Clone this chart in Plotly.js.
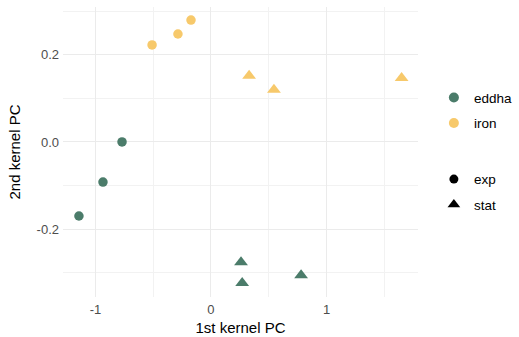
<!DOCTYPE html>
<html><head><meta charset="utf-8">
<script src="https://cdn.plot.ly/plotly-3.0.1.min.js"></script>
<style>html,body{margin:0;padding:0;background:#fff}#chart{width:519px;height:337px}</style>
</head><body><div id="chart"></div>
<script>
// data
const pc1 = [-0.77, -0.935, -1.143, 0.26, 0.27, 0.78, -0.51, -0.286, -0.173, 0.33, 0.545, 1.65];
const pc2 = [0.0, -0.092, -0.170, -0.276, -0.324, -0.306, 0.223, 0.248, 0.280, 0.152, 0.120, 0.147];
const treatment = ["eddha","eddha","eddha","eddha","eddha","eddha","iron","iron","iron","iron","iron","iron"];
const method = ["exp","exp","exp","stat","stat","stat","exp","exp","exp","stat","stat","stat"];
const treatments = ["eddha","iron"];
const methods = ["exp","stat"];
const colors = {eddha:"#4B7C6A", iron:"#F7C96B"};
const symbols = {exp:"circle", stat:"triangle-up"};
const sizes = {exp:9.5, stat:12};

const traces = [];
treatments.forEach(t => methods.forEach(m => {
  const idx = pc1.map((_, i) => i).filter(i => treatment[i] === t && method[i] === m);
  traces.push({
    type: "scatter", mode: "markers",
    x: idx.map(i => pc1[i]), y: idx.map(i => pc2[i]),
    marker: {color: colors[t], symbol: symbols[m], size: sizes[m]},
    showlegend: false, hoverinfo: "skip"
  });
}));
treatments.forEach(t => traces.push({
  type: "scatter", mode: "markers", x: [null], y: [null], name: t,
  marker: {color: colors[t], symbol: "circle", size: 10},
  legend: "legend", legendgroup: t
}));
methods.forEach(m => traces.push({
  type: "scatter", mode: "markers", x: [null], y: [null], name: m,
  marker: {color: "#000000", symbol: symbols[m], size: m === "exp" ? 9 : 11},
  legend: "legend2", legendgroup: m
}));

const font = {family: "Liberation Sans, Arial, sans-serif"};
const layout = {
  width: 519, height: 337,
  margin: {l: 63, r: 101, t: 7, b: 40},
  paper_bgcolor: "#ffffff", plot_bgcolor: "#ffffff",
  font: {family: font.family, color: "#4D4D4D", size: 13},
  xaxis: {
    range: [-1.281, 1.792], tickvals: [-1, 0, 1], ticktext: ["-1", "0", "1"],
    showgrid: true, gridcolor: "#EBEBEB", gridwidth: 1, zeroline: false, showline: false, ticks: "",
    minor: {tickvals: [-0.5, 0.5, 1.5], showgrid: true, gridcolor: "#F2F2F2", gridwidth: 1, ticks: ""},
    tickfont: {size: 13, color: "#4D4D4D"}, ticklabelstandoff: 3,
    title: {text: "1st kernel PC", font: {size: 15, color: "#000000"}, standoff: 6}
  },
  yaxis: {
    range: [-0.356, 0.310], tickvals: [-0.2, 0, 0.2], ticktext: ["-0.2", "0.0", "0.2"],
    showgrid: true, gridcolor: "#EBEBEB", gridwidth: 1, zeroline: false, showline: false, ticks: "",
    minor: {tickvals: [-0.3, -0.1, 0.1, 0.3], showgrid: true, gridcolor: "#F2F2F2", gridwidth: 1, ticks: ""},
    tickfont: {size: 13, color: "#4D4D4D"}, ticklabelstandoff: 3,
    title: {text: "2nd kernel PC", font: {size: 15, color: "#000000"}, standoff: 12}
  },
  legend: {xref: "container", yref: "container", x: 0.836, y: 0.756, xanchor: "left", yanchor: "top",
    font: {size: 13.5, color: "#000000"}, tracegroupgap: 5, bgcolor: "rgba(0,0,0,0)"},
  legend2: {xref: "container", yref: "container", x: 0.836, y: 0.514, xanchor: "left", yanchor: "top",
    font: {size: 13.5, color: "#000000"}, tracegroupgap: 5, bgcolor: "rgba(0,0,0,0)"},
  showlegend: true
};
Plotly.newPlot("chart", traces, layout, {displayModeBar: false});
</script></body></html>
